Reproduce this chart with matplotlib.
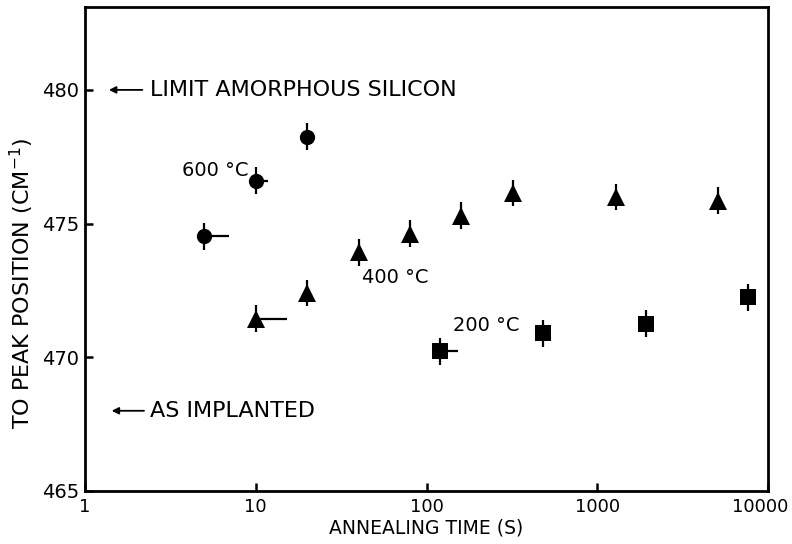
import matplotlib
matplotlib.use("Agg")
import matplotlib.pyplot as plt
from matplotlib.transforms import ScaledTranslation

plt.rcParams['font.family'] = ['DejaVu Sans']

# Data
t600 = [5, 10, 20]
y600 = [474.52, 476.61, 478.25]
xplus600 = [1.97, 1.8, 0.0]

t400 = [10, 20, 40, 80, 160, 320, 1280, 5120]
y400 = [471.44, 472.40, 473.93, 474.62, 475.30, 476.14, 475.99, 475.86]
xplus400 = [5.2, 0, 0, 0, 0, 0, 0, 0]

t200 = [120, 480, 1920, 7680]
y200 = [470.22, 470.90, 471.26, 472.25]
xplus200 = [33.0, 0, 0, 0]

yerr = 0.5

xticks = [1, 10, 100, 1000, 10000]
xticklabels = ['1', '10', '100', '1000', '10000']
yticks = [465, 470, 475, 480]

fig = plt.figure(figsize=(7.92, 5.44), dpi=100)
ax = fig.add_axes([85/792, 1-491/544, (768-85)/792, (491-7)/544])

def series(t, y, xp, marker, ms):
    ax.errorbar(t, y, yerr=yerr, xerr=[[0]*len(xp), xp], fmt=marker, color='black',
                ms=ms, ecolor='black', elinewidth=1.6, capsize=0, mew=0)

series(t600, y600, xplus600, 'o', 11)
series(t400, y400, xplus400, '^', 12.5)
series(t200, y200, xplus200, 's', 11)

ax.set_xscale('log')
ax.set_xlim(1, 10000)
ax.set_ylim(465, 483.1)
ax.set_xticks(xticks)
ax.set_xticklabels(xticklabels)
ax.set_yticks(yticks)
ax.minorticks_off()
ax.tick_params(axis='both', direction='in', length=6, width=1.8, pad=4)
ax.tick_params(axis='x', labelsize=13, pad=5)
ax.tick_params(axis='y', labelsize=14)
for s in ax.spines.values():
    s.set_linewidth(2.0)

# shift last x tick label so it fits like the reference
lbl = ax.get_xticklabels()[-1]
lbl.set_horizontalalignment('right')
lbl.set_transform(lbl.get_transform() + ScaledTranslation(20/100, 0, fig.dpi_scale_trans))

ax.set_xlabel('ANNEALING TIME (S)', fontsize=13.5, labelpad=2)
ax.set_ylabel('TO PEAK POSITION (CM$^{-1}$)', fontsize=16)
ax.yaxis.set_label_coords(-0.072, 0.43)

# Annotations
ax.annotate('', xy=(1.33, 480), xytext=(2.25, 480),
            arrowprops=dict(arrowstyle='-|>', color='black', lw=1.3, mutation_scale=10))
ax.text(2.4, 480, 'LIMIT AMORPHOUS SILICON', fontsize=16, va='center', ha='left')
ax.annotate('', xy=(1.38, 468), xytext=(2.3, 468),
            arrowprops=dict(arrowstyle='-|>', color='black', lw=1.3, mutation_scale=10))
ax.text(2.4, 468, 'AS IMPLANTED', fontsize=16, va='center', ha='left')

ax.text(3.7, 477.0, '600 °C', fontsize=14, va='center', ha='left')
ax.text(42, 473.0, '400 °C', fontsize=14, va='center', ha='left')
ax.text(143, 471.2, '200 °C', fontsize=14, va='center', ha='left')

fig.savefig('out.png', dpi=100)
